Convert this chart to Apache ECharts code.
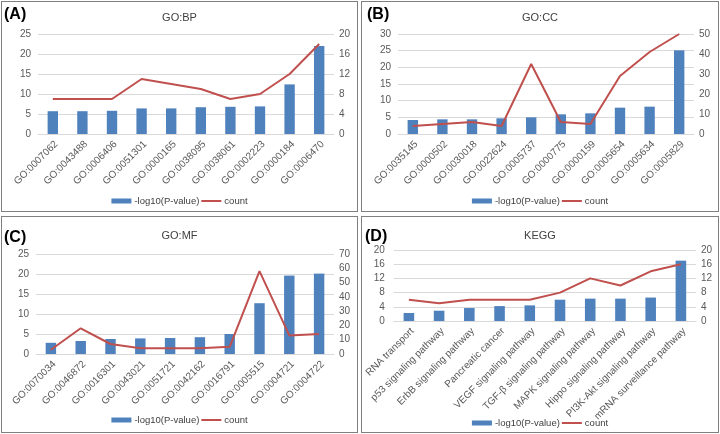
<!DOCTYPE html>
<html><head><meta charset="utf-8">
<script src="https://cdn.jsdelivr.net/npm/echarts@6/dist/echarts.min.js"></script>
<style>
html,body{margin:0;padding:0;background:#fff;width:720px;height:434px;overflow:hidden;}
.p{position:absolute;box-sizing:border-box;border:1px solid #7f7f7f;background:#fff;}
</style></head>
<body>
<div id="A" class="p" style="left:1px;top:1px;width:357px;height:211px"></div>
<div id="B" class="p" style="left:361px;top:1px;width:358px;height:211px"></div>
<div id="C" class="p" style="left:1px;top:216px;width:357px;height:217px"></div>
<div id="D" class="p" style="left:361px;top:216px;width:358px;height:217px"></div>
<script>
// Panel A: GO:BP
const catsA = ['GO:0007062','GO:0043488','GO:0006406','GO:0051301','GO:0000165','GO:0038095','GO:0038061','GO:0002223','GO:0000184','GO:0006470'];
const pvalA = [5.7, 5.7, 5.8, 6.4, 6.4, 6.7, 6.8, 6.9, 12.4, 22.0];
const countA = [7, 7, 7, 11, 10, 9, 7, 8, 12, 18];
// Panel B: GO:CC
const catsB = ['GO:0035145','GO:0000502','GO:0030018','GO:0022624','GO:0005737','GO:0000775','GO:0000159','GO:0005654','GO:0005634','GO:0005829'];
const pvalB = [4.2, 4.4, 4.4, 4.7, 5.0, 5.9, 6.2, 7.9, 8.2, 25.1];
const countB = [4, 5, 6, 4, 35, 6, 5, 29, 41, 50];
// Panel C: GO:MF
const catsC = ['GO:0070034','GO:0046872','GO:0016301','GO:0043021','GO:0051721','GO:0042162','GO:0016791','GO:0005515','GO:0004721','GO:0004722'];
const pvalC = [2.8, 3.25, 3.75, 3.9, 4.0, 4.2, 5.0, 12.7, 19.6, 20.1];
const countC = [3, 18, 7, 4, 4, 4, 5, 58, 13, 14];
// Panel D: KEGG
const catsD = ['RNA transport','p53 signaling pathway','ErbB signaling pathway','Pancreatic cancer','VEGF signaling pathway','TGF-β signaling pathway','MAPK signaling pathway','Hippo signaling pathway','PI3K-Akt signaling pathway','mRNA surveillance pathway'];
const pvalD = [2.25, 2.9, 3.65, 4.2, 4.4, 6.0, 6.3, 6.3, 6.6, 17.0];
const countD = [6, 5, 6, 6, 6, 8, 12, 10, 14, 16];

const FONT = 'Liberation Sans, Arial, sans-serif';
const BAR = '#4F81BD', LINE = '#C0504D';

function make(id, label, title, cats, pv, cnt, cfg){
  const ch = echarts.init(document.getElementById(id), null, {renderer:'canvas'});
  ch.setOption({
    animation:false,
    textStyle:{fontFamily:FONT},
    title:[
      {text:label, left:cfg.labX, top:cfg.labY, padding:0, textStyle:{fontFamily:FONT, fontSize:16, fontWeight:'bold', color:'#000'}},
      {text:title, left:'center', top:cfg.titY, padding:0, textStyle:{fontFamily:FONT, fontSize:11, fontWeight:'normal', color:'#404040'}}
    ],
    legend:{
      top:cfg.legY, left:'center', itemGap:1, itemWidth:20, itemHeight:5,
      textStyle:{fontFamily:FONT, fontSize:9.5, color:'#404040', padding:[0,0,0,-2]},
      data:[{name:'-log10(P-value)', icon:'rect'}, {name:'count', itemStyle:{opacity:0}, lineStyle:{color:LINE, width:2, opacity:1}}]
    },
    grid:{left:cfg.gl, top:cfg.gt, width:cfg.gw, height:cfg.gh, containLabel:false},
    xAxis:{
      type:'category', data:cats,
      axisTick:{show:false},
      axisLine:{lineStyle:{color:'#d9d9d9'}},
      axisLabel:{rotate:45, fontFamily:FONT, fontSize:10, color:'#595959', margin:5, interval:0, verticalAlign:'top'}
    },
    yAxis:[
      {type:'value', min:0, max:cfg.lmax, interval:cfg.lint,
       axisLine:{show:false}, axisTick:{show:false},
       splitLine:{lineStyle:{color:'#d9d9d9'}},
       axisLabel:{fontFamily:FONT, fontSize:10, color:'#595959', margin:cfg.lm}},
      {type:'value', min:0, max:cfg.rmax, interval:cfg.rint, position:'right',
       axisLine:{show:false}, axisTick:{show:false}, splitLine:{show:false},
       axisLabel:{fontFamily:FONT, fontSize:10, color:'#595959', margin:5}}
    ],
    series:[
      {name:'-log10(P-value)', type:'bar', data:pv, yAxisIndex:0, barWidth:'35%',
       itemStyle:{color:BAR}},
      {name:'count', type:'line', data:cnt, yAxisIndex:1, symbol:'none',
       lineStyle:{color:LINE, width:2}, itemStyle:{color:LINE}}
    ]
  });
}

make('A','(A)','GO:BP',catsA,pvalA,countA,{labX:2,labY:5,titY:10,legY:189,gl:36,gt:32,gw:296,gh:100,lmax:25,lint:5,rmax:20,rint:4,lm:7});
make('B','(B)','GO:CC',catsB,pvalB,countB,{labX:5,labY:5,titY:10,legY:189,gl:36,gt:32,gw:296,gh:100,lmax:30,lint:5,rmax:50,rint:10,lm:7});
make('C','(C)','GO:MF',catsC,pvalC,countC,{labX:2,labY:13,titY:13,legY:193,gl:34,gt:37,gw:298,gh:100,lmax:25,lint:5,rmax:70,rint:10,lm:7});
make('D','(D)','KEGG',catsD,pvalD,countD,{labX:3,labY:12,titY:13,legY:196,gl:31,gt:33,gw:303,gh:71,lmax:20,lint:4,rmax:20,rint:4,lm:9});
</script>
</body></html>
